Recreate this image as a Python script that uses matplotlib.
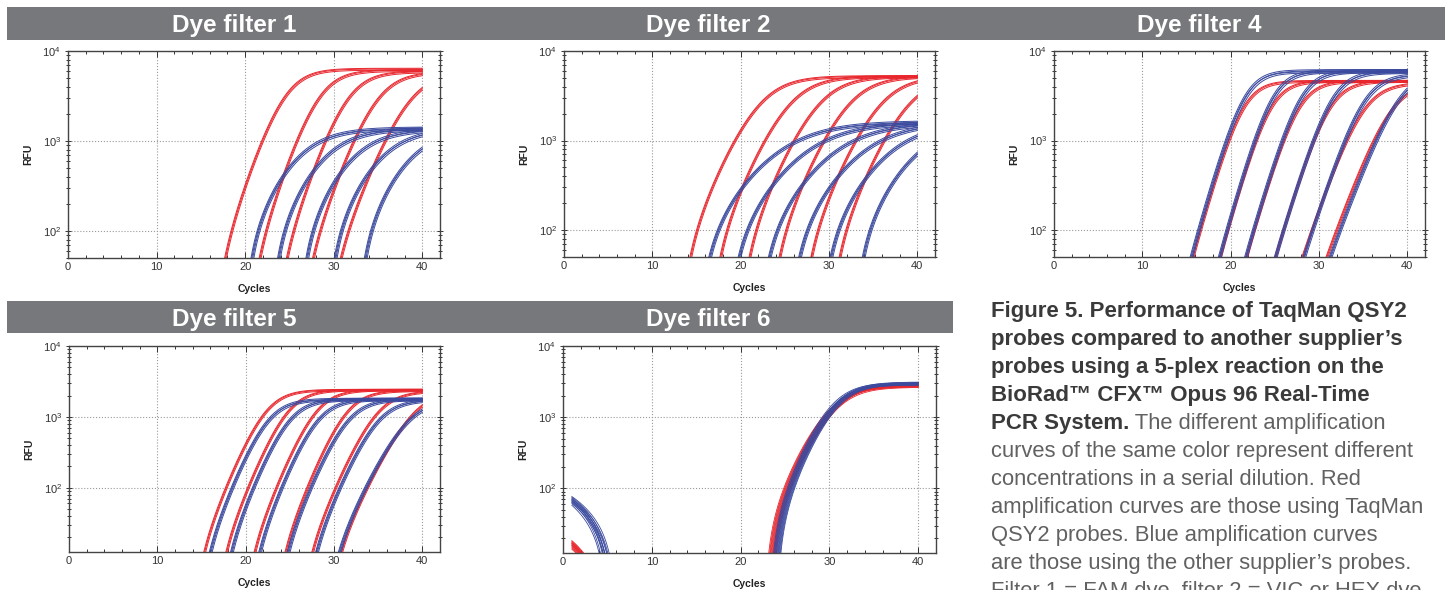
import numpy as np
import matplotlib
matplotlib.use("Agg")
import matplotlib.pyplot as plt
from matplotlib.patches import Rectangle
from matplotlib.ticker import MultipleLocator, LogLocator, NullFormatter

plt.rcParams['font.family'] = ['Liberation Sans', 'DejaVu Sans']
plt.rcParams['mathtext.fontset'] = 'custom'
plt.rcParams['mathtext.rm'] = 'Liberation Sans'
plt.rcParams['mathtext.it'] = 'Liberation Sans:italic'
plt.rcParams['mathtext.bf'] = 'Liberation Sans:bold'

RED = '#e8262d'
BLUE = '#3b4a9e'
HEADER = '#77787b'

# curve groups: cycle where the group crosses 100 RFU,
# apparent plateau (RFU) and width of the sigmoid (cycles)
F1_RED_CQ = [18.5, 22.4, 25.5, 28.5, 31.7]
F1_RED_PLAT = [6300, 6100, 5900, 5800, 5800]
F1_RED_SLOPE = [1.6, 1.6, 1.65, 1.75, 1.9]
F1_BLUE_CQ = [21.5, 24.5, 27.7, 30.9, 34.3]
F1_BLUE_PLAT = [1390, 1380, 1360, 1380, 1380]
F1_BLUE_SLOPE = [2.6, 2.6, 2.6, 2.6, 2.6]
F1_BASE = (40, 146)

F2_RED_CQ = [15.1, 18.5, 21.8, 25.2, 28.8, 32.0]
F2_RED_PLAT = [5200, 5200, 5200, 5200, 5200, 5200]
F2_RED_SLOPE = [2.1, 2.1, 2.1, 2.1, 2.1, 2.1]
F2_BLUE_CQ = [17.5, 20.8, 24.2, 27.6, 31.1, 34.7]
F2_BLUE_PLAT = [1620, 1600, 1580, 1600, 1600, 1600]
F2_BLUE_SLOPE = [3.7, 3.6, 3.5, 3.4, 3.2, 3.0]
F2_BASE = (70, 146)

F4_RED_CQ = [16.6, 19.7, 22.7, 26.0, 29.2, 32.0]
F4_RED_PLAT = [4600, 4600, 4600, 4600, 4400, 4500]
F4_RED_SLOPE = [1.3, 1.3, 1.35, 1.4, 1.6, 1.7]
F4_BLUE_CQ = [16.4, 19.6, 22.6, 26.0, 29.3, 32.4]
F4_BLUE_PLAT = [6000, 6000, 6000, 5900, 5500, 6000]
F4_BLUE_SLOPE = [1.3, 1.3, 1.35, 1.4, 1.5, 1.7]
F4_BASE = (6, 6)

F5_RED_CQ = [17.8, 20.3, 23.5, 27.0, 30.2, 33.8]
F5_RED_PLAT = [2400, 2400, 2400, 2350, 2300, 2400]
F5_RED_SLOPE = [1.5, 1.5, 1.5, 1.5, 1.6, 1.8]
F5_BLUE_CQ = [18.5, 20.9, 24.1, 27.4, 30.7, 33.6]
F5_BLUE_PLAT = [1780, 1780, 1780, 1780, 1750, 1780]
F5_BLUE_SLOPE = [1.5, 1.5, 1.5, 1.55, 1.6, 1.8]
F5_BASE = (10, 10)

F6_RED_CQ = [25.3]
F6_RED_PLAT = [2800]
F6_RED_SLOPE = [1.85]
F6_BLUE_CQ = [25.7]
F6_BLUE_PLAT = [3000]
F6_BLUE_SLOPE = [1.7]
F6_BASE = (50, 50)

# replicate wells: cycle shift and plateau factor
RED_SHIFTS = [-0.1, 0.0, 0.12]
RED_SCALES = [1.02, 1.0, 0.97]
BLUE_SHIFTS = [-0.15, -0.05, 0.05, 0.18]
BLUE_SCALES = [1.03, 0.98, 1.0, 0.95]
F6_SHIFTS = [-0.45, -0.35, -0.28, -0.2, -0.12, -0.05, 0.02, 0.08, 0.15, 0.22, 0.3, 0.38]
F6_SCALES = [0.96, 1.0, 0.98, 1.03, 0.95, 1.01, 0.99, 1.04, 0.97, 1.0, 0.94, 1.02]

# early baseline drift in filter 6 (RFU at cycle 1, cycle where it hits zero)
F6_BLUE_DRIFT_START = [58, 61, 63, 64, 66, 67, 68, 70, 71, 73, 75, 77]
F6_BLUE_DRIFT_ZERO = [4.9, 5.4, 5.0, 5.6, 5.2, 5.8, 5.3, 5.5, 5.9, 5.4, 5.7, 6.0]
F6_RED_DRIFT_START = [14, 15, 15.5, 16, 16.5, 17, 17.5, 18, 14.5, 16, 17, 18.5]
F6_RED_DRIFT_ZERO = [5.0, 5.0, 5.0, 5.0, 5.0, 5.0, 5.0, 5.0, 5.0, 5.0, 5.0, 5.0]

TITLES = ["Dye filter 1", "Dye filter 2", "Dye filter 4", "Dye filter 5", "Dye filter 6"]

CAPTION_BOLD = [
    "Figure 5. Performance of TaqMan QSY2",
    "probes compared to another supplier\u2019s",
    "probes using a 5-plex reaction on the",
    "BioRad\u2122 CFX\u2122 Opus 96 Real-Time",
    "PCR System.",
]
CAPTION_REG = [
    " The different amplification",
    "curves of the same color represent different",
    "concentrations in a serial dilution. Red",
    "amplification curves are those using TaqMan",
    "QSY2 probes. Blue amplification curves",
    "are those using the other supplier\u2019s probes.",
    "Filter 1 = FAM dye, filter 2 = VIC or HEX dye,",
]

W, H = 1450, 590
cycles = np.arange(1, 40.001, 0.02)


def fx(x):
    return x / W


def fy(y):
    return 1 - y / H


def amp_curve(c, cq, plateau, slope, base, thr=100.0):
    top = plateau + base
    c_mid = cq + slope * np.log(top / (thr + base) - 1)
    y = top / (1 + np.exp(-(c - c_mid) / slope)) - base
    return np.where(y > 0, y, np.nan)


def draw_groups(ax, cq, plat, slope, base, shifts, scales, color, lw):
    for q, p, s in zip(cq, plat, slope):
        for d, k in zip(shifts, scales):
            ax.plot(cycles, amp_curve(cycles, q + d, p * k, s, base), color=color, lw=lw)


def style_axes(ax, ybottom):
    ax.set_yscale('log')
    ax.set_xlim(0, 42)
    ax.set_ylim(ybottom, 1e4)
    ax.xaxis.set_major_locator(MultipleLocator(10))
    ax.xaxis.set_minor_locator(MultipleLocator(2))
    ax.yaxis.set_major_locator(LogLocator(base=10))
    ax.yaxis.set_minor_locator(LogLocator(base=10, subs=np.arange(2, 10)))
    ax.yaxis.set_minor_formatter(NullFormatter())
    ax.tick_params(which='both', top=True, right=True, direction='in',
                   colors='#333333', labelsize=8, width=0.7, pad=3)
    ax.tick_params(axis='y', which='both', direction='inout')
    ax.tick_params(which='major', length=4)
    ax.tick_params(which='minor', length=2.5)
    ax.grid(True, which='major', linestyle=':', color='#9a9a9a', linewidth=0.8)
    ax.set_axisbelow(True)
    for sp in ax.spines.values():
        sp.set_color('#444444')
        sp.set_linewidth(1.0)
    ax.set_ylabel("RFU", fontsize=7.5, fontweight='bold', color='#222222')
    ax.set_xlabel("Cycles", fontsize=7.5, fontweight='bold', color='#222222')
    ax.yaxis.set_label_coords(-0.093, 0.5)
    ax.xaxis.set_label_coords(0.5, -0.125)


fig = plt.figure(figsize=(14.5, 5.9), dpi=100)

# header bars
fig.add_artist(Rectangle((fx(7), fy(40)), fx(1445 - 7), 33 / H,
                         transform=fig.transFigure, color=HEADER, lw=0))
fig.add_artist(Rectangle((fx(7), fy(333)), fx(953 - 7), 32 / H,
                         transform=fig.transFigure, color=HEADER, lw=0))
title_pos = [(234, 32.3), (708, 32.3), (1199, 32.3), (234, 326), (708, 326)]
for t, (tx, ty) in zip(TITLES, title_pos):
    fig.text(fx(tx), fy(ty), t, color='white', fontsize=17.5, fontweight='bold',
             ha='center', va='baseline')

# axes boxes in pixels: left, right, top, bottom
boxes = [(68, 440, 51, 258), (564, 935, 51, 257), (1054, 1425, 51, 257),
         (69, 440, 346, 552), (563, 936, 346, 553)]
axes = [fig.add_axes([fx(l), fy(b), fx(r - l), (b - t) / H]) for l, r, t, b in boxes]

panels = [
    (F1_RED_CQ, F1_RED_PLAT, F1_RED_SLOPE, F1_BLUE_CQ, F1_BLUE_PLAT, F1_BLUE_SLOPE, F1_BASE, 50),
    (F2_RED_CQ, F2_RED_PLAT, F2_RED_SLOPE, F2_BLUE_CQ, F2_BLUE_PLAT, F2_BLUE_SLOPE, F2_BASE, 50),
    (F4_RED_CQ, F4_RED_PLAT, F4_RED_SLOPE, F4_BLUE_CQ, F4_BLUE_PLAT, F4_BLUE_SLOPE, F4_BASE, 50),
    (F5_RED_CQ, F5_RED_PLAT, F5_RED_SLOPE, F5_BLUE_CQ, F5_BLUE_PLAT, F5_BLUE_SLOPE, F5_BASE, 12.4),
]
for ax, (rq, rp, rs, bq, bp, bs, base, ybot) in zip(axes[:4], panels):
    draw_groups(ax, rq, rp, rs, base[0], RED_SHIFTS, RED_SCALES, RED, 0.7)
    draw_groups(ax, bq, bp, bs, base[1], BLUE_SHIFTS, BLUE_SCALES, BLUE, 0.7)
    style_axes(ax, ybot)

# filter 6: all wells overlap, plus baseline drift at the start
ax6 = axes[4]
draw_groups(ax6, F6_RED_CQ, F6_RED_PLAT, F6_RED_SLOPE, F6_BASE[0], F6_SHIFTS, F6_SCALES, RED, 0.6)
draw_groups(ax6, F6_BLUE_CQ, F6_BLUE_PLAT, F6_BLUE_SLOPE, F6_BASE[1], F6_SHIFTS, F6_SCALES[::-1], BLUE, 0.6)
early = np.arange(1, 7.001, 0.02)
for a, z in zip(F6_RED_DRIFT_START, F6_RED_DRIFT_ZERO):
    y = a * (z - early) / (z - 1)
    ax6.plot(early, np.where(y > 0, y, np.nan), color=RED, lw=0.6)
for a, z in zip(F6_BLUE_DRIFT_START, F6_BLUE_DRIFT_ZERO):
    y = a * (z - early) / (z - 1)
    ax6.plot(early, np.where(y > 0, y, np.nan), color=BLUE, lw=0.6)
style_axes(ax6, 12.4)

# caption
x0 = fx(991)
line_h = 27.95
y0 = 317.5
for i, line in enumerate(CAPTION_BOLD):
    last = fig.text(x0, fy(y0 + i * line_h), line, fontsize=16, fontweight='bold',
                    color='#3a3a3a', ha='left', va='baseline')
reg_texts = []
for j, line in enumerate(CAPTION_REG):
    reg_texts.append(fig.text(x0, fy(y0 + (4 + j) * line_h), line, fontsize=15.8,
                              color='#616161', ha='left', va='baseline'))

# the first regular words continue the last bold line
fig.canvas.draw()
bb = last.get_window_extent()
reg_texts[0].set_position((bb.x1 / W, fy(y0 + 4 * line_h)))

fig.savefig("out.png", dpi=100)
